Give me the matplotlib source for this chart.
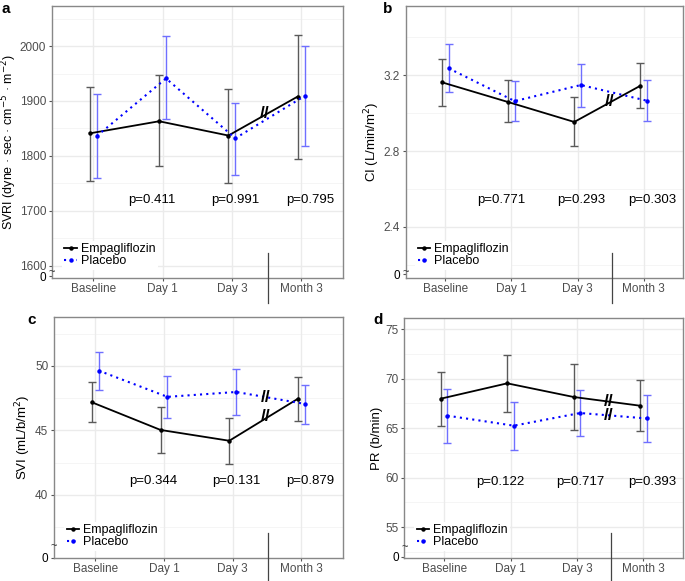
import matplotlib
matplotlib.use('Agg')
import matplotlib.pyplot as plt
import matplotlib.transforms as mtransforms
import numpy as np

plt.rcParams['font.family'] = ['Liberation Sans', 'DejaVu Sans']

# %%
# data
timepoints = ['Baseline', 'Day 1', 'Day 3', 'Month 3']
p_labels = {
    'a': ['p=0.411', 'p=0.991', 'p=0.795'],
    'b': ['p=0.771', 'p=0.293', 'p=0.303'],
    'c': ['p=0.344', 'p=0.131', 'p=0.879'],
    'd': ['p=0.122', 'p=0.717', 'p=0.393'],
}

# SVRI
svri_empa = [1841, 1863, 1837, 1908]
svri_empa_lo = [1755, 1781, 1751, 1795]
svri_empa_hi = [1925, 1947, 1922, 2021]
svri_plac = [1836, 1941, 1832, 1909]
svri_plac_lo = [1759, 1867, 1766, 1818]
svri_plac_hi = [1912, 2018, 1897, 2001]

# CI
ci_empa = [3.163, 3.059, 2.954, 3.145]
ci_empa_lo = [3.038, 2.952, 2.828, 3.029]
ci_empa_hi = [3.288, 3.177, 3.085, 3.263]
ci_plac = [3.237, 3.064, 3.149, 3.066]
ci_plac_lo = [3.110, 2.958, 3.033, 2.958]
ci_plac_hi = [3.364, 3.170, 3.258, 3.174]

# SVI
svi_empa = [47.18, 45.03, 44.19, 47.46]
svi_empa_lo = [45.63, 43.26, 42.40, 45.70]
svi_empa_hi = [48.76, 46.81, 45.99, 49.15]
svi_plac = [49.64, 47.60, 47.98, 47.05]
svi_plac_lo = [48.17, 45.99, 46.22, 45.50]
svi_plac_hi = [51.09, 49.23, 49.74, 48.50]

# PR
pr_empa = [67.98, 69.53, 68.15, 67.27]
pr_empa_lo = [65.20, 66.63, 64.80, 64.67]
pr_empa_hi = [70.68, 72.43, 71.44, 69.87]
pr_plac = [66.26, 65.25, 66.53, 65.98]
pr_plac_lo = [63.50, 62.79, 64.17, 63.60]
pr_plac_hi = [68.99, 67.61, 68.89, 68.32]

# %%
fig = plt.figure(figsize=(6.85, 5.81), dpi=100)

panels = [
    dict(tag='a', rect=[0.0755, 0.522, 0.4248, 0.4677], letter=(2, 2),
         ylabel='SVRI (dyne · sec · cm$^{-5}$ · m$^{-2}$)', ysize=9,
         ylim=(1578, 2073), major=[1600, 1700, 1800, 1900, 2000],
         minor=[1650, 1750, 1850, 1950, 2050], zero=1581, squig=1589,
         ptext=1720, empa=(svri_empa, svri_empa_lo, svri_empa_hi),
         plac=(svri_plac, svri_plac_lo, svri_plac_hi), breaks=['empa'],
         fmt='{:.0f}'),
    dict(tag='b', rect=[0.5923, 0.522, 0.4052, 0.4677], letter=(383, 2),
         ylabel=r'CI (L/min/m$^2$)', ysize=9.5,
         ylim=(2.132, 3.566), major=[2.4, 2.8, 3.2],
         minor=[2.2, 2.6, 3.0, 3.4], zero=2.15, squig=2.16,
         ptext=2.54, empa=(ci_empa, ci_empa_lo, ci_empa_hi),
         plac=(ci_plac, ci_plac_lo, ci_plac_hi), breaks=['empa'],
         fmt='{:.1f}'),
    dict(tag='c', rect=[0.0788, 0.040, 0.4215, 0.4143], letter=(27, 313),
         ylabel=r'SVI (mL/b/m$^2$)', ysize=9.5,
         ylim=(35.16, 53.8), major=[40, 45, 50],
         minor=[37.5, 42.5, 47.5, 52.5], zero=35.1, squig=36.0,
         ptext=41.05, empa=(svi_empa, svi_empa_lo, svi_empa_hi),
         plac=(svi_plac, svi_plac_lo, svi_plac_hi), breaks=['empa', 'plac'],
         fmt='{:.0f}'),
    dict(tag='d', rect=[0.5903, 0.040, 0.4069, 0.4121], letter=(373, 313),
         ylabel='PR (b/min)', ysize=9.5,
         ylim=(51.9, 76.1), major=[55, 60, 65, 70, 75],
         minor=[52.5, 57.5, 62.5, 67.5, 72.5], zero=52.0, squig=52.97,
         ptext=59.6, empa=(pr_empa, pr_empa_lo, pr_empa_hi),
         plac=(pr_plac, pr_plac_lo, pr_plac_hi), breaks=['empa', 'plac'],
         fmt='{:.0f}'),
]

x = np.arange(1, len(timepoints) + 1)
dodge = 0.05
p_x = [1.85, 3.05, 4.13]
break_x = 3.52
grid_col = '#ebebeb'
tick_col = '#4d4d4d'

for p in panels:
    ax = fig.add_axes(p['rect'])
    ax.set_xlim(0.4, 4.6)
    ax.set_ylim(*p['ylim'])

    # grid
    for v in p['minor']:
        ax.axhline(v, color='#f4f4f4', lw=0.6, zorder=0)
    for v in p['major']:
        ax.axhline(v, color=grid_col, lw=1.0, zorder=0)
    for v in x:
        ax.axvline(v, color=grid_col, lw=1.0, zorder=0)

    em, em_lo, em_hi = [np.array(s) for s in p['empa']]
    pl, pl_lo, pl_hi = [np.array(s) for s in p['plac']]
    xe = x - dodge
    xp = x + dodge

    ax.errorbar(xe, em, yerr=[em - em_lo, em_hi - em], fmt='none',
                ecolor='#5a5a5a', elinewidth=1.0, capsize=3, capthick=1.0, zorder=2)
    ax.errorbar(xp, pl, yerr=[pl - pl_lo, pl_hi - pl], fmt='none',
                ecolor='#6f6fff', elinewidth=1.0, capsize=3, capthick=1.0, zorder=2)
    ax.plot(xe, em, color='black', lw=1.3, marker='o', ms=2.2,
            label='Empagliflozin', zorder=3)
    ax.plot(xp, pl, color='blue', lw=1.5, ls=(0, (1, 2)), marker='o', ms=2.2,
            label='Placebo', zorder=3)

    # break marks on the lines between Day 3 and Month 3
    for s in p['breaks']:
        xs, ys = (xe, em) if s == 'empa' else (xp, pl)
        yb = np.interp(break_x, xs, ys)
        ax.text(break_x - 0.04, yb, '//', ha='center', va='center', fontsize=12.5,
                fontweight='bold', color='black', zorder=4)

    # vertical break line across the x axis
    h_px = p['rect'][3] * 581
    off = 25.0 / h_px
    trans = mtransforms.blended_transform_factory(ax.transData, ax.transAxes)
    ax.plot([break_x, break_x], [-off, off], color='#444444', lw=0.9,
            transform=trans, clip_on=False, zorder=5)

    # squiggle on the y axis break
    trans_y = mtransforms.blended_transform_factory(ax.transAxes, ax.transData)
    ax.text(0.0, p['squig'], '~', transform=trans_y, ha='center', va='center',
            fontsize=8, color='#333333', clip_on=False)

    # p values
    for px, lab in zip(p_x, p_labels[p['tag']]):
        ax.text(px, p['ptext'], lab, ha='center', va='center', fontsize=9.5,
                color='black')

    ax.set_xticks(x)
    ax.set_xticklabels(timepoints)
    ax.set_yticks([p['zero']] + p['major'])
    ax.set_yticklabels(['0'] + [p['fmt'].format(v) for v in p['major']])
    ax.tick_params(axis='both', colors='#555555', labelcolor=tick_col,
                   labelsize=8.5, length=2.5, width=0.8, pad=1.5)
    ax.get_yticklabels()[0].set_color('black')
    ax.set_ylabel(p['ylabel'], fontsize=p['ysize'], labelpad=1.5)
    if p['tag'] == 'a':
        ax.yaxis.set_label_coords(-0.112, 0.5)
    for sp in ax.spines.values():
        sp.set_color('#888888')
        sp.set_linewidth(1.0)

    leg = ax.legend(loc='lower left', bbox_to_anchor=(0.035, 0.03), fontsize=9,
                    frameon=True, handlelength=1.0, handletextpad=0.3,
                    labelspacing=0.0, borderpad=0.2, borderaxespad=0)
    leg.get_frame().set_facecolor('white')
    leg.get_frame().set_edgecolor('none')
    leg.get_frame().set_alpha(1)

    lx, ly = p['letter']
    fig.text(lx / 685, 1 - ly / 581, p['tag'], fontsize=11,
             fontweight='bold', ha='left', va='top')

fig.savefig('out.png', dpi=100)
